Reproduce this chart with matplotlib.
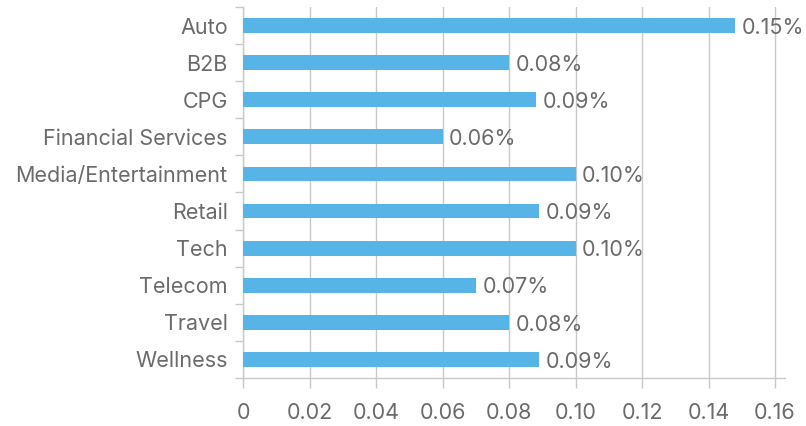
import numpy as np
import matplotlib
matplotlib.use("Agg")
import matplotlib.pyplot as plt
from matplotlib.ticker import FixedLocator

categories = ["Auto", "B2B", "CPG", "Financial Services", "Media/Entertainment",
              "Retail", "Tech", "Telecom", "Travel", "Wellness"]
values = [0.148, 0.080, 0.088, 0.060, 0.100, 0.089, 0.100, 0.070, 0.080, 0.089]
xticks = [0, 0.02, 0.04, 0.06, 0.08, 0.10, 0.12, 0.14, 0.16]
xtick_labels = ["0", "0.02", "0.04", "0.06", "0.08", "0.10", "0.12", "0.14", "0.16"]

bar_color = "#56b4e6"
text_color = "#6b6b6d"
grid_color = "#c9c9cc"

plt.rcParams["font.family"] = ["Inter", "DejaVu Sans"]

fig = plt.figure(figsize=(8.06, 4.26), dpi=100)
ax = fig.add_axes([0.3015, 0.1127, 0.6725, 0.8709])

y = np.arange(len(categories))
ax.barh(y, values, height=0.4, color=bar_color, zorder=3)

for yi, v in zip(y, values):
    ax.text(v + 0.002, yi + 0.06, f"{v:.2f}%", va="center", ha="left",
            fontsize=15.5, color=text_color, zorder=4)

ax.set_ylim(len(categories) - 0.5, -0.5)
ax.set_xlim(0, 0.163)

ax.set_yticks(y)
ax.set_yticklabels(categories, fontsize=15.5, color=text_color)
ax.yaxis.set_minor_locator(FixedLocator(np.arange(-0.5, len(categories), 1.0)))
ax.tick_params(axis="y", which="major", length=0, pad=11)
ax.tick_params(axis="y", which="minor", length=6, width=1, color=grid_color)

ax.set_xticks(xticks)
ax.set_xticklabels(xtick_labels, fontsize=15.5, color=text_color)
ax.tick_params(axis="x", length=7, width=1, color=grid_color, pad=11)

ax.grid(axis="x", color=grid_color, linewidth=1, zorder=0)
ax.set_axisbelow(True)

for side in ["top", "right"]:
    ax.spines[side].set_visible(False)
for side in ["left", "bottom"]:
    ax.spines[side].set_color(grid_color)
    ax.spines[side].set_linewidth(1)

fig.savefig("out.png", dpi=100)
